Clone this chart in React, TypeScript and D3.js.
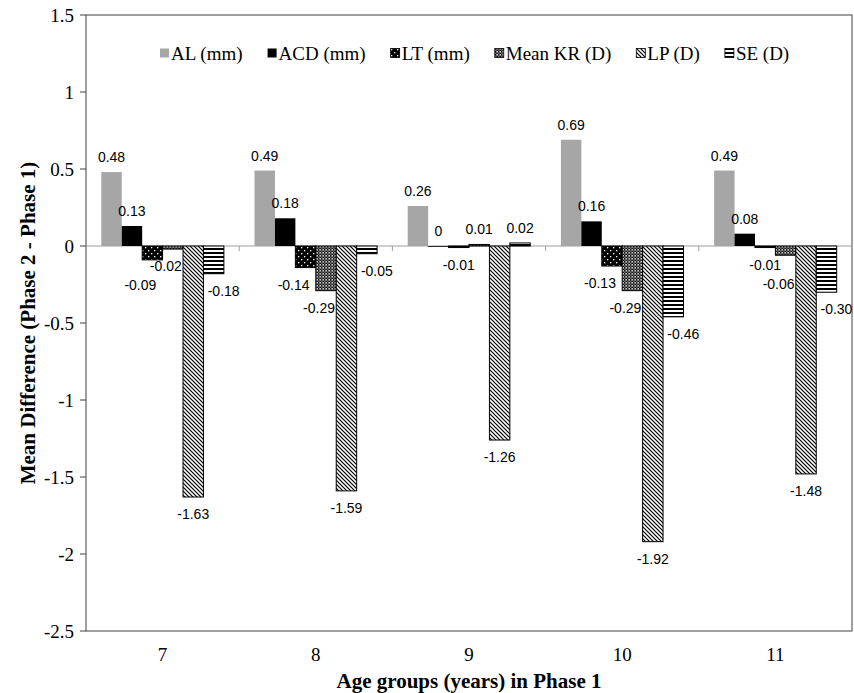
import React, { useEffect, useRef } from "react";
import * as d3 from "d3";

const categories = ["7", "8", "9", "10", "11"];
const seriesNames = ["AL (mm)", "ACD (mm)", "LT (mm)", "Mean KR (D)", "LP (D)", "SE (D)"];
const AL = [0.48, 0.49, 0.26, 0.69, 0.49];
const ACD = [0.13, 0.18, 0, 0.16, 0.08];
const LT = [-0.09, -0.14, -0.01, -0.13, -0.01];
const KR = [-0.02, -0.29, 0.01, -0.29, -0.06];
const LP = [-1.63, -1.59, -1.26, -1.92, -1.48];
const SE = [-0.18, -0.05, 0.02, -0.46, -0.3];
const yTicks = [1.5, 1, 0.5, 0, -0.5, -1, -1.5, -2, -2.5];

const W = 854;
const H = 693;
const serif = "'Liberation Serif', 'Times New Roman', serif";
const sans = "'Liberation Sans', Arial, sans-serif";

export default function App() {
  const ref = useRef<SVGSVGElement>(null);

  useEffect(() => {
    const svg = d3.select(ref.current);
    svg.selectAll("*").remove();

    const seriesValues = [AL, ACD, LT, KR, LP, SE];
    const fills = ["#a6a6a6", "#000", "url(#dots)", "url(#checker)", "url(#diag)", "url(#hlines)"];
    const strokes = ["none", "none", "#000", "#000", "#000", "#000"];

    const defs = svg.append("defs");
    const dots = defs.append("pattern").attr("id", "dots").attr("patternUnits", "userSpaceOnUse").attr("width", 6).attr("height", 6);
    dots.append("rect").attr("width", 6).attr("height", 6).attr("fill", "#000");
    dots.append("rect").attr("x", 1).attr("y", 1).attr("width", 1.3).attr("height", 1.3).attr("fill", "#fff");
    dots.append("rect").attr("x", 4).attr("y", 4).attr("width", 1.3).attr("height", 1.3).attr("fill", "#fff");

    const checker = defs.append("pattern").attr("id", "checker").attr("patternUnits", "userSpaceOnUse").attr("width", 3).attr("height", 3);
    checker.append("rect").attr("width", 3).attr("height", 3).attr("fill", "#6a6a6a");
    checker.append("rect").attr("width", 1.5).attr("height", 1.5).attr("fill", "#111");
    checker.append("rect").attr("x", 1.5).attr("y", 1.5).attr("width", 1.5).attr("height", 1.5).attr("fill", "#111");
    checker.append("rect").attr("x", 1.5).attr("y", 0).attr("width", 1.5).attr("height", 1.5).attr("fill", "#ccc");

    const diag = defs.append("pattern").attr("id", "diag").attr("patternUnits", "userSpaceOnUse").attr("width", 4).attr("height", 4);
    diag.append("rect").attr("width", 4).attr("height", 4).attr("fill", "#fff");
    diag.append("path").attr("d", "M-1,-1 L5,5 M-1,3 L1,5 M3,-1 L5,1").attr("stroke", "#000").attr("stroke-width", 1.2);

    const hl = defs.append("pattern").attr("id", "hlines").attr("patternUnits", "userSpaceOnUse").attr("width", 4).attr("height", 4);
    hl.append("rect").attr("width", 4).attr("height", 4).attr("fill", "#fff");
    hl.append("rect").attr("width", 4).attr("height", 2).attr("fill", "#000");

    svg.append("rect").attr("width", W).attr("height", H).attr("fill", "#fff");

    const left = 86, right = 852, top = 15, bottom = 631;
    const x0 = d3.scaleBand<string>().domain(categories).range([left, right]).paddingInner(0).paddingOuter(0);
    const x1 = d3.scaleBand<string>().domain(seriesNames).range([0, x0.bandwidth()]).paddingInner(0).paddingOuter(0.75);
    const y = d3.scaleLinear().domain([-2.5, 1.5]).range([bottom, top]);

    // frame
    svg.append("rect").attr("x", left).attr("y", top).attr("width", right - left).attr("height", bottom - top)
      .attr("fill", "none").attr("stroke", "#404040").attr("stroke-width", 1);

    // y axis ticks and labels
    const yAxis = svg.append("g");
    yTicks.forEach((t) => {
      yAxis.append("line").attr("x1", left - 6).attr("x2", left).attr("y1", y(t)).attr("y2", y(t)).attr("stroke", "#404040");
      yAxis.append("text").attr("x", left - 12).attr("y", y(t)).attr("dy", "0.35em").attr("text-anchor", "end")
        .attr("font-family", serif).attr("font-size", 19).attr("fill", "#000").text(String(t));
    });

    // zero axis line with category ticks
    svg.append("line").attr("x1", left).attr("x2", right).attr("y1", y(0)).attr("y2", y(0)).attr("stroke", "#a0a0a0").attr("stroke-width", 1.2);
    categories.slice(1).forEach((c) => {
      const xx = x0(c)!;
      svg.append("line").attr("x1", xx).attr("x2", xx).attr("y1", y(0)).attr("y2", y(0) + 5).attr("stroke", "#a0a0a0");
    });

    // bars
    const barG = svg.append("g");
    const labelG = svg.append("g");
    const labelShift = [0, 0, -12, -7, 0, 10];
    categories.forEach((cat, ci) => {
      const placed: DOMRect[] = [];
      const order = seriesNames.map((_, si) => si).sort((a, b) => {
        const va = seriesValues[a][ci], vb = seriesValues[b][ci];
        return Math.abs(va) - Math.abs(vb);
      });
      seriesValues.forEach((vals, si) => {
        const name = seriesNames[si];
        const v = vals[ci];
        const cx = x0(cat)! + x1(name)!;
        const bw = x1.bandwidth();
        const y0 = y(Math.max(0, v));
        const h = Math.abs(y(v) - y(0));
        barG.append("rect").attr("x", cx).attr("y", y0).attr("width", bw).attr("height", Math.max(h, 0.8))
          .attr("fill", fills[si]).attr("stroke", strokes[si]).attr("stroke-width", strokes[si] === "none" ? 0 : 1);
      });
      order.forEach((si) => {
        const name = seriesNames[si];
        const v = seriesValues[si][ci];
        const cx = x0(cat)! + x1(name)!;
        const bw = x1.bandwidth();
        const lx = cx + bw / 2 + (v < 0 && Math.abs(v) > 0.015 ? labelShift[si] : 0);
        let ly = v >= 0 ? y(v) - 10 : y(v) + 22;
        const t = labelG.append("text").attr("x", lx).attr("y", ly).attr("text-anchor", "middle")
          .attr("font-family", sans).attr("font-size", 14).attr("fill", "#000")
          .text(v === 0 ? "0" : v.toFixed(2));
        let bb = (t.node() as SVGTextElement).getBBox();
        const hits = (b: DOMRect) => placed.some((p) => b.x < p.x + p.width && b.x + b.width > p.x && b.y < p.y + p.height && b.y + b.height > p.y);
        let guard = 0;
        while (v < 0 && hits(bb) && guard < 10) {
          ly += 4;
          t.attr("y", ly);
          bb = (t.node() as SVGTextElement).getBBox();
          guard++;
        }
        placed.push(bb);
      });
    });

    // category labels
    categories.forEach((c) => {
      svg.append("text").attr("x", x0(c)! + x0.bandwidth() / 2).attr("y", 661).attr("text-anchor", "middle")
        .attr("font-family", serif).attr("font-size", 19).attr("fill", "#000").text(c);
    });

    // axis titles
    svg.append("text").attr("x", (left + right) / 2).attr("y", 688).attr("text-anchor", "middle")
      .attr("font-family", serif).attr("font-weight", "bold").attr("font-size", 21).attr("fill", "#000")
      .text("Age groups (years) in Phase 1");
    svg.append("text").attr("transform", `translate(28,${(top + bottom) / 2}) rotate(-90)`).attr("text-anchor", "middle")
      .attr("dy", "0.35em").attr("font-family", serif).attr("font-weight", "bold").attr("font-size", 21).attr("fill", "#000")
      .text("Mean Difference (Phase 2 - Phase 1)");

    // legend
    const lg = svg.append("g");
    let lx = 160;
    const ly = 53;
    seriesNames.forEach((name, si) => {
      lg.append("rect").attr("x", lx).attr("y", ly - 4.5).attr("width", 9).attr("height", 9)
        .attr("fill", fills[si]).attr("stroke", strokes[si] === "none" ? "none" : "#000").attr("stroke-width", 0.8);
      const t = lg.append("text").attr("x", lx + 11).attr("y", ly).attr("dy", "0.35em")
        .attr("font-family", serif).attr("font-size", 19).attr("fill", "#000").text(name);
      const tw = (t.node() as SVGTextElement).getComputedTextLength();
      lx = lx + 11 + tw + 25;
    });
  }, []);

  return (
    <svg ref={ref} width={W} height={H} style={{ position: "absolute", left: 0, top: 0, display: "block" }} />
  );
}
